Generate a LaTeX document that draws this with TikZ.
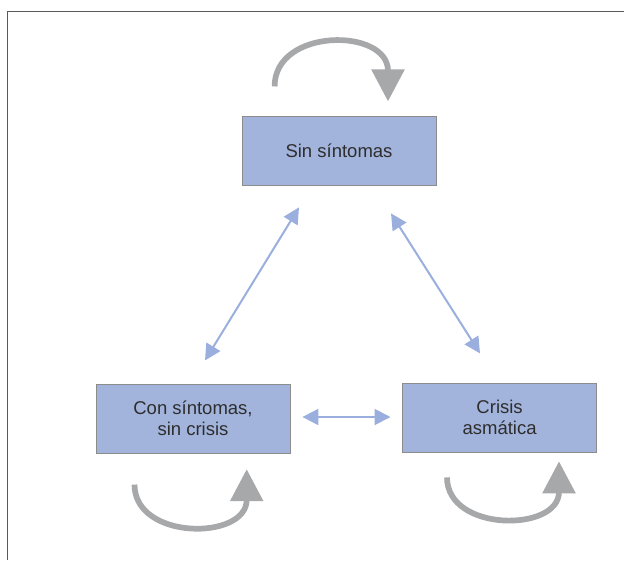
\documentclass[tikz,border=0pt]{standalone}
\usepackage{fontspec}
\setmainfont{Liberation Sans}
\usetikzlibrary{arrows.meta, calc}
\definecolor{boxblue}{RGB}{163,180,220}
\definecolor{linkblue}{RGB}{155,175,222}
\definecolor{loopgray}{RGB}{167,168,170}
\definecolor{textgray}{RGB}{45,45,45}
\definecolor{framegray}{RGB}{90,90,90}

\begin{document}
\begin{tikzpicture}[
    x=1pt, y=-1pt,
    stagebox/.style={draw=gray!90, line width=0.8pt, fill=boxblue, minimum width=194pt, minimum height=69pt, inner sep=0pt, align=center, text=textgray, font=\fontsize{18.5}{21}\selectfont},
    link/.style={{Triangle[length=16pt, width=16pt]}-{Triangle[length=16pt, width=16pt]}, line width=2pt, linkblue},
    selfarr/.style={-{Triangle[length=32pt, width=32pt]}, line width=5.7pt, loopgray}
]
\useasboundingbox (0,0) rectangle (624,560);
\draw[line width=1pt, framegray] (7,560) -- (7,11.5) -- (624,11.5);

\node[stagebox] (sin) at (339,150.5) {Sin síntomas};
\node[stagebox] (con) at (193,418.6) {Con síntomas,\\sin crisis};
\node[stagebox] (crisis) at (499.6,417.5) {Crisis\\asmática};

% ends of the links
\coordinate (s1) at ($(sin.south)+(-40,22)$);
\coordinate (c1) at ($(con.north)+(12,-23.3)$);
\coordinate (s2) at ($(sin.south)+(52,28)$);
\coordinate (k1) at ($(crisis.north)+(-19.6,-29.2)$);
\coordinate (c2) at ($(con.east)+(12,-1.6)$);
\coordinate (k2) at ($(crisis.west)+(-11.7,-0.5)$);

\draw[link] (s1) -- (c1);
\draw[link] (s2) -- (k1);
\draw[link] (c2) -- (k2);

% self loops
\coordinate (sa) at ($(sin.north)+(-64.4,-29.2)$);
\coordinate (sb) at ($(sin.north)+(49,-14.2)$);
\draw[selfarr] (sa) .. controls ($(sa)+(0,-58.9)$) and ($(sb)+(0,-73.9)$) .. (sb);

\coordinate (ca) at ($(con.south)+(-58.5,31.1)$);
\coordinate (cb) at ($(con.south)+(53.7,15.7)$);
\draw[selfarr] (ca) .. controls ($(ca)+(0,56)$) and ($(cb)+(0,71.4)$) .. (cb);

\coordinate (ka) at ($(crisis.south)+(-52.6,25)$);
\coordinate (kb) at ($(crisis.south)+(59.4,8.9)$);
\draw[selfarr] (ka) .. controls ($(ka)+(0,55)$) and ($(kb)+(0,71)$) .. (kb);
\end{tikzpicture}
\end{document}
